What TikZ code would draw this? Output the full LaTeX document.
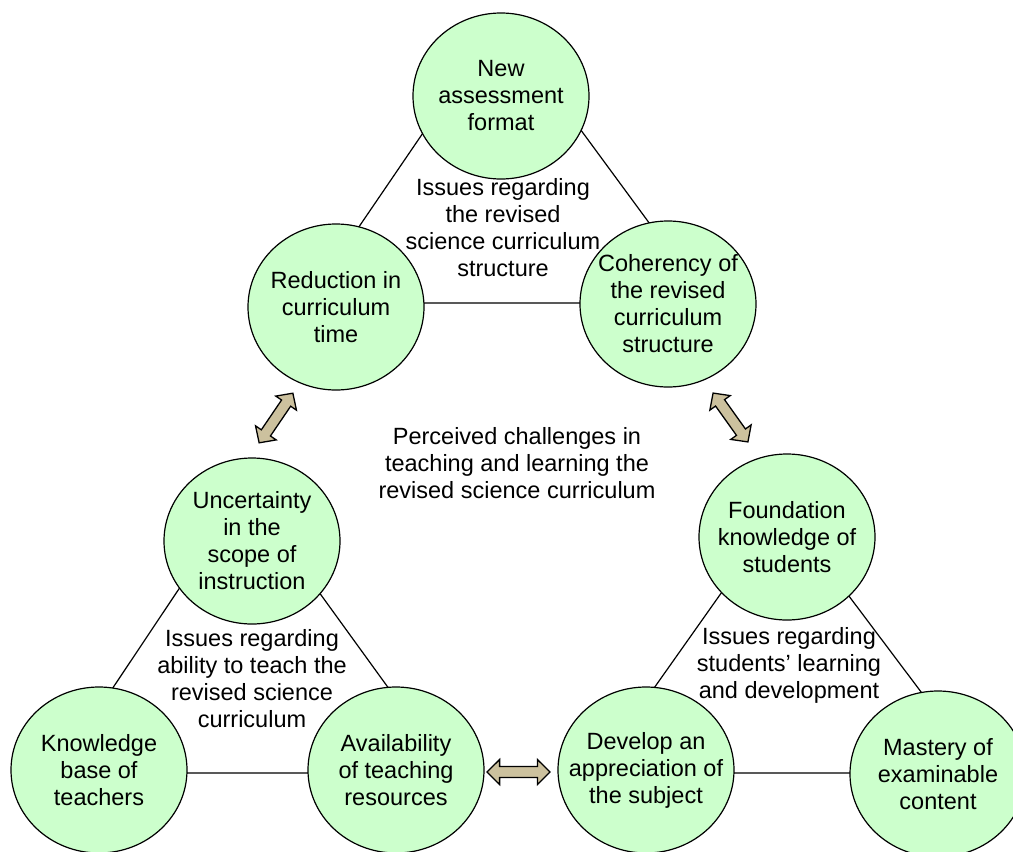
\documentclass[tikz,border=0pt]{standalone}
\usepackage{fontspec}
\setmainfont{Liberation Sans}
\usetikzlibrary{shapes.geometric}
\definecolor{circfill}{RGB}{204,255,204}
\definecolor{arrfill}{RGB}{204,193,158}
\tikzset{
  lbl/.style={align=center, inner sep=0pt, font=\fontsize{23.5}{27}\selectfont},
  bubble/.style={ellipse, draw, line width=1.2pt, fill=circfill, minimum width=176pt, minimum height=166pt, inner sep=0pt,
    label={[lbl]center:#1}},
  triline/.style={draw, line width=1.2pt},
  dblarr/.pic={\draw[line width=1.3pt, fill=arrfill, line join=miter]
    (-30,0) -- (-18,-12.5) -- (-18,-5.5) -- (18,-5.5) -- (18,-12.5) -- (30,0) -- (18,12.5) -- (18,5.5) -- (-18,5.5) -- (-18,12.5) -- cycle;}
}
\begin{document}
\begin{tikzpicture}[x=1pt,y=-1pt]
\useasboundingbox (0,0) rectangle (1013,852);
% triangle vertices
\coordinate (ta) at (500,20);
\coordinate (tb) at (307,303);
\coordinate (tc) at (708,303);
\coordinate (la) at (245,490);
\coordinate (lb) at (56,773);
\coordinate (lc) at (450,773);
\coordinate (ra) at (782,507);
\coordinate (rb) at (594,773);
\coordinate (rc) at (982,773);
\draw[triline] (ta) -- (tb) -- (tc) -- cycle;
\draw[triline] (la) -- (lb) -- (lc) -- cycle;
\draw[triline] (ra) -- (rb) -- (rc) -- cycle;
% circles
\node[bubble={New\\assessment\\format}] (N) at (501,96) {};
\node[bubble={Reduction in\\curriculum\\time}] (R) at (336,307) {};
\node[bubble={Coherency of\\the revised\\curriculum\\structure}] (C) at (668,304) {};
\node[bubble={Uncertainty\\in the\\scope of\\instruction}] (U) at (252,541) {};
\node[bubble={Foundation\\knowledge of\\students}] (F) at (787,537) {};
\node[bubble={Knowledge\\base of\\teachers}] (K) at (99,770) {};
\node[bubble={Availability\\of teaching\\resources}] (A) at (396,770) {};
\node[bubble={Develop an\\appreciation of\\the subject}] (D) at (646,770) {};
\node[bubble={Mastery of\\examinable\\content}] (M) at (938,774) {};
% labels
\node[lbl] (L1) at (503,228) {Issues regarding\\the revised\\science curriculum\\structure};
\node[lbl] (L2) at (517,463) {Perceived challenges in\\teaching and learning the\\revised science curriculum};
\node[lbl] (L3) at (252,679) {Issues regarding\\ability to teach the\\revised science\\curriculum};
\node[lbl] (L4) at (789,665) {Issues regarding\\students’ learning\\and development};
% double arrows
\pic[rotate=55.8] at (276,418) {dblarr};
\pic[rotate=-54.5] at (730.5,417.5) {dblarr};
\pic[xscale=1.05] at (518.5,772) {dblarr};
\end{tikzpicture}
\end{document}
